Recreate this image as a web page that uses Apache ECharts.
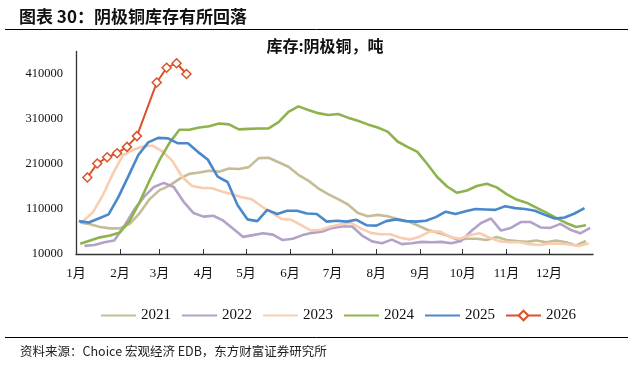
<!DOCTYPE html>
<html>
  <head>
    <meta charset="UTF-8" />
    <title></title>
    <script src="https://cdn.jsdelivr.net/npm/echarts@6/dist/echarts.min.js"></script>
    <style>
      body { margin: 0; background: #fff; }
    </style>
  </head>
  <body>
    <div id="main"></div>
    <script>
      const width = 634;
      const height = 375;
      const main = document.getElementById('main');
      main.style.width = `${width}px`;
      main.style.height = `${height}px`;

      // month starts, as day of year
      const monthDays = [0, 31, 59, 90, 120, 151, 181, 212, 243, 273, 304, 334];
      const monthLabels = ['1月', '2月', '3月', '4月', '5月', '6月', '7月', '8月', '9月', '10月', '11月', '12月'];

      // weekly readings, first reading's day of year
      const start2021 = 3;
      const y2021 = [80000, 76000, 70000, 67000, 67000, 77000, 101000, 132000, 152000, 162000,
        177000, 188000, 191000, 195000, 193000, 200000, 199000, 203000, 223000, 224000,
        214000, 204000, 186000, 173000, 156000, 143000, 132000, 120000, 101000, 94000,
        97000, 94000, 88000, 83000, 74000, 64000, 58000, 51000, 42000, 44000,
        44000, 41000, 48000, 41000, 39000, 37000, 40000, 36000, 40000, 36000, 29000, 39000];

      const start2022 = 6;
      const y2022 = [28000, 30000, 36000, 40000, 72000, 108000, 137000, 159000, 168000, 159000,
        126000, 101000, 93000, 95000, 84000, 66000, 48000, 52000, 56000, 53000,
        41000, 44000, 52000, 57000, 60000, 68000, 71000, 71000, 51000, 38000,
        34000, 42000, 32000, 34000, 37000, 36000, 37000, 34000, 39000, 61000,
        79000, 89000, 62000, 68000, 81000, 81000, 69000, 68000, 77000, 64000, 56000, 68000];

      const start2023 = 5;
      const y2023 = [83000, 103000, 141000, 188000, 229000, 241000, 249000, 251000, 238000, 217000,
        181000, 161000, 157000, 156000, 149000, 143000, 136000, 132000, 116000, 102000,
        88000, 86000, 74000, 62000, 64000, 71000, 76000, 79000, 67000, 57000,
        54000, 54000, 46000, 42000, 49000, 60000, 60000, 48000, 44000, 52000,
        56000, 46000, 38000, 36000, 36000, 32000, 30000, 33000, 33000, 31000, 28000, 34000];

      const start2024 = 3;
      const y2024 = [33000, 40000, 47000, 51000, 58000, 84000, 126000, 174000, 219000, 257000,
        286000, 286000, 291000, 294000, 300000, 298000, 287000, 288000, 289000, 289000,
        303000, 326000, 338000, 330000, 323000, 319000, 321000, 313000, 306000, 298000,
        291000, 282000, 260000, 248000, 237000, 210000, 181000, 160000, 146000, 151000,
        161000, 166000, 158000, 143000, 131000, 124000, 113000, 102000, 90000, 79000, 70000, 74000];

      const start2025 = 2;
      const y2025 = [83000, 80000, 89000, 98000, 137000, 183000, 230000, 258000, 268000, 267000,
        256000, 256000, 237000, 220000, 182000, 170000, 119000, 87000, 83000, 108000,
        99000, 106000, 106000, 100000, 99000, 82000, 84000, 82000, 86000, 74000,
        73000, 83000, 87000, 83000, 82000, 84000, 92000, 104000, 99000, 105000,
        110000, 109000, 108000, 116000, 112000, 110000, 106000, 97000, 89000, 91000, 100000, 112000];

      // 2026 skips the Spring Festival week
      const days2026 = [8, 15, 22, 29, 36, 43, 57, 64, 71, 78];
      const y2026 = [180000, 211000, 225000, 234000, 248000, 272000, 391000, 424000, 434000, 410000];

      const years = ['2021', '2022', '2023', '2024', '2025', '2026'];

      const weekly = (start, values) => values.map((v, i) => [start + 7 * i, v]);

      const serif = 'Liberation Serif, Noto Sans CJK SC, serif';
      const cjk = 'Noto Sans CJK SC, sans-serif';

      const lineSeries = (name, data, color) => ({
        name,
        type: 'line',
        data,
        symbol: 'circle',
        showSymbol: false,
        lineStyle: { color, width: 2.6 },
        itemStyle: { color },
        emphasis: { disabled: true },
        animation: false,
      });

      const series = [
        lineSeries('2021', weekly(start2021, y2021), '#c4bd97'),
        lineSeries('2022', weekly(start2022, y2022), '#b3a2c7'),
        lineSeries('2023', weekly(start2023, y2023), '#f9cdb0'),
        lineSeries('2024', weekly(start2024, y2024), '#8fb34c'),
        lineSeries('2025', weekly(start2025, y2025), '#4a88cc'),
        {
          name: '2026',
          type: 'line',
          data: days2026.map((d, i) => [d, y2026[i]]),
          symbol: 'diamond',
          symbolSize: 9,
          lineStyle: { color: '#d9532a', width: 2 },
          itemStyle: { color: '#fff', borderColor: '#d9532a', borderWidth: 1.5 },
          emphasis: { disabled: true },
          animation: false,
        },
      ];

      // plain lines in the legend except for 2026
      const legendData = years.map((y) =>
        y === '2026' ? { name: y } : { name: y, itemStyle: { opacity: 0 } }
      );

      const myChart = echarts.init(main);
      const option = {
        backgroundColor: '#fff',
        title: [
          {
            text: '图表 30：阴极铜库存有所回落',
            left: 14,
            top: 3,
            textStyle: { fontSize: 17, fontWeight: 'bold', color: '#111', fontFamily: cjk },
          },
          {
            text: '库存:阴极铜，吨',
            left: 320,
            textAlign: 'center',
            top: 33,
            textStyle: { fontSize: 16, fontWeight: 'bold', color: '#111', fontFamily: cjk },
          },
          {
            text: '资料来源：Choice 宏观经济 EDB，东方财富证券研究所',
            left: 15,
            top: 340,
            textStyle: { fontSize: 12.5, fontWeight: 'normal', color: '#222', fontFamily: cjk },
          },
        ],
        graphic: [
          { type: 'line', shape: { x1: 5, y1: 29.5, x2: 628, y2: 29.5 }, style: { stroke: '#000', lineWidth: 1 } },
          { type: 'line', shape: { x1: 5, y1: 337.5, x2: 628, y2: 337.5 }, style: { stroke: '#000', lineWidth: 1 } },
        ],
        legend: {
          left: 95,
          top: 303,
          itemWidth: 35,
          itemHeight: 12,
          itemGap: 10,
          textStyle: { fontFamily: serif, fontSize: 15, color: '#111' },
          data: legendData,
        },
        grid: { left: 76, right: 41, top: 51.5, bottom: 121, containLabel: false },
        xAxis: {
          type: 'value',
          min: 0,
          max: 365,
          splitLine: { show: false },
          axisLine: { lineStyle: { color: '#333', width: 1.3 } },
          axisTick: { inside: true, length: 5, customValues: monthDays.slice(1), lineStyle: { color: '#333' } },
          axisLabel: {
            customValues: monthDays,
            formatter: (v) => monthLabels[monthDays.indexOf(v)],
            fontFamily: serif,
            fontSize: 13,
            color: '#111',
            margin: 13,
          },
        },
        yAxis: {
          type: 'value',
          min: 10000,
          max: 460000,
          interval: 100000,
          splitLine: { show: false },
          axisLine: { show: true, lineStyle: { color: '#333', width: 1.3 } },
          axisTick: { show: false },
          axisLabel: {
            showMaxLabel: false,
            formatter: (v) => String(v),
            fontFamily: serif,
            fontSize: 12.5,
            color: '#111',
            margin: 13,
          },
        },
        series,
      };
      myChart.setOption(option);
    </script>
  </body>
</html>
